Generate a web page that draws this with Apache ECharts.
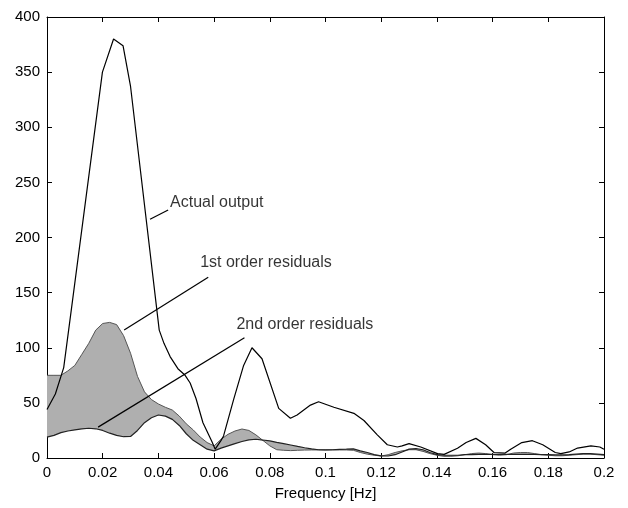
<!DOCTYPE html>
<html><head><meta charset="utf-8">
<script src="https://cdn.jsdelivr.net/npm/echarts@6.0.0/dist/echarts.min.js"></script>
<style>html,body{margin:0;padding:0;background:#fff}#c{width:628px;height:508px}</style>
</head><body><div id="c"></div>
<script>
const freqActual = [0,0.003,0.006,0.0085,0.0199,0.0239,0.0273,0.030,0.0403,0.042,0.0442,0.047,0.0496,0.0514,0.0535,0.056,0.0592,0.0604,0.0625,0.0634,0.067,0.0706,0.0736,0.0772,0.0832,0.0874,0.0898,0.0946,0.0975,0.103,0.1102,0.1138,0.1186,0.1222,0.1258,0.1275,0.130,0.1342,0.1402,0.1426,0.1474,0.1505,0.154,0.1575,0.1605,0.1645,0.1665,0.1705,0.1743,0.178,0.1825,0.1845,0.1875,0.1905,0.1953,0.1985,0.2];
const actualOutput = [44,58,82,130,350,380,374,337,116,104,92,81,75,68,54,32,15,8,16,20,53,84,100,90,45,36,39,48,51,46,40.5,34,21,12,10,11,13,10,4,3.3,8.8,14,17.8,12,5,4.5,8,14,15.7,12,5,4,5.5,9,11,10,8];

const freqResidual = [0,0.0025,0.005,0.0075,0.01,0.0125,0.015,0.0175,0.02,0.0225,0.025,0.0275,0.03,0.0325,0.035,0.0375,0.04,0.0425,0.045,0.0475,0.05,0.0525,0.055,0.0575,0.06,0.0625,0.065,0.0675,0.07,0.0725,0.075,0.0775,0.08,0.0825,0.085,0.0875,0.09,0.0925,0.095,0.0975,0.1,0.1025,0.105,0.1075,0.11,0.1125,0.115,0.1175,0.12,0.1225,0.125,0.1275,0.13,0.1325,0.135,0.1375,0.14,0.1425,0.145,0.1475,0.15,0.1525,0.155,0.1575,0.16,0.1625,0.165,0.1675,0.17,0.1725,0.175,0.1775,0.18,0.1825,0.185,0.1875,0.19,0.1925,0.195,0.1975,0.2];
const firstOrderResiduals = [75,75,75,79,84,94,104,116,122,123,121,111,95,74,60,53,49,46,43.5,38,31,25.5,19,14,11,17,21.5,24.5,26.3,25,21,16,11,7.5,7,6.7,7,7.2,7.3,7.3,7.3,7.3,7.3,7.3,7,5,3.5,2.5,1.8,3,5,6.5,7.5,7.5,6,4,2.5,1.5,1.5,2,3,4,4.5,4,3,2.5,3,4.5,5,5,4,3,2.5,2,2,2.5,3,3.5,3.5,3,2.5];
const secondOrderResiduals = [19,20.5,23,24.5,25.5,26.5,27,26.5,25,22.5,20.5,19.3,19.5,25,32,36.5,39,38,35,29.5,22,16,12,8,6.5,9,11,13,15,16.5,17,16.3,15.5,14.2,13,11.8,10.5,9.3,8.3,7.5,7.3,7.5,7.8,8,8.3,6.5,5,3,2,1.8,3,5.5,8,8.5,7.5,5,3,2.5,2.5,2.5,3,3,3.2,3.2,3.2,3.2,3.3,3.3,3.3,3.3,3.3,3,3,2.8,2.8,3,3.5,4,4,3.5,3];

const xTickLabels = ['0','0.02','0.04','0.06','0.08','0.1','0.12','0.14','0.16','0.18','0.2'];
const yTickLabels = ['0','50','100','150','200','250','300','350','400'];

const annotationText = ['Actual output','1st order residuals','2nd order residuals'];
const annotationFrom = [[0.037,216.5],[0.0277,116],[0.01835,28]];
const annotationTo = [[0.0435,225],[0.0579,164],[0.0709,109]];
const annotationTextAt = [[0.0442,232],[0.055,177],[0.068,121]];

const FONT = 'Liberation Sans';
const xTickStep = 0.02, yTickStep = 50;
function xLabel(v){ const i = Math.round(v / xTickStep); return xTickLabels[i] !== undefined ? xTickLabels[i] : ''; }
function yLabel(v){ const i = Math.round(v / yTickStep); return yTickLabels[i] !== undefined ? yTickLabels[i] : ''; }

const chart = echarts.init(document.getElementById('c'), null, {renderer:'canvas'});
const axisCommon = {
  type:'value', min:0,
  axisLine:{show:true, onZero:false, lineStyle:{color:'#000', width:1}},
  axisTick:{show:true, inside:true, length:5, lineStyle:{color:'#000'}},
  splitLine:{show:false}
};
const series = [
  {type:'custom', data:[0], silent:true, z:1, clip:true,
    renderItem:function(params, api){
      const pts = [];
      for (let i=0;i<freqResidual.length;i++) pts.push(api.coord([freqResidual[i], firstOrderResiduals[i]]));
      for (let i=freqResidual.length-1;i>=0;i--) pts.push(api.coord([freqResidual[i], secondOrderResiduals[i]]));
      return {type:'polygon', shape:{points:pts}, style:{fill:'#afafaf', stroke:null}};
    }},
  {type:'line', data: freqResidual.map((f,i)=>[f, firstOrderResiduals[i]]), symbol:'none', lineStyle:{color:'#555', width:1}, z:3},
  {type:'line', data: freqResidual.map((f,i)=>[f, secondOrderResiduals[i]]), symbol:'none', lineStyle:{color:'#222', width:1.2}, z:3},
  {type:'line', data: freqActual.map((f,i)=>[f, actualOutput[i]]), symbol:'none', lineStyle:{color:'#000', width:1.2}, z:4}
];
annotationText.forEach((t,k)=>{
  series.push({type:'line', data:[annotationFrom[k], annotationTo[k]], symbol:'none', lineStyle:{color:'#000', width:1.2}, z:5, silent:true});
});
series.push({type:'scatter', data: annotationTextAt, symbolSize:0, z:6, silent:true,
  label:{show:true, position:'right', distance:0, color:'#000', fontFamily:FONT, fontSize:16,
    formatter:(p)=>annotationText[p.dataIndex]}});

chart.setOption({
  animation:false,
  backgroundColor:'#fff',
  grid:{left:47, right:24, top:17, bottom:50, containLabel:false},
  xAxis:[
    Object.assign({}, axisCommon, {position:'bottom', max:0.2, interval:xTickStep,
      axisLabel:{show:true, margin:7, color:'#000', fontFamily:FONT, fontSize:15, formatter:xLabel},
      name:'Frequency [Hz]', nameLocation:'middle', nameGap:28,
      nameTextStyle:{color:'#000', fontFamily:FONT, fontSize:15}}),
    Object.assign({}, axisCommon, {position:'top', max:0.2, interval:xTickStep, axisLabel:{show:false}})
  ],
  yAxis:[
    Object.assign({}, axisCommon, {position:'left', max:400, interval:yTickStep,
      axisLabel:{show:true, margin:7, color:'#000', fontFamily:FONT, fontSize:15, formatter:yLabel}}),
    Object.assign({}, axisCommon, {position:'right', max:400, interval:yTickStep, axisLabel:{show:false}})
  ],
  series: series
});
</script></body></html>
